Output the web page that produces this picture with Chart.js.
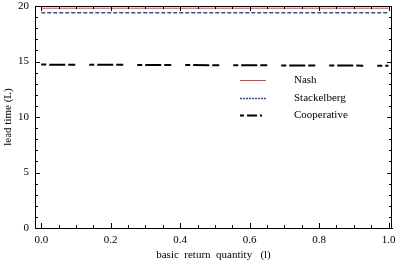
<!DOCTYPE html>
<html>
<head>
<meta charset="utf-8">
<script src="https://cdn.jsdelivr.net/npm/chart.js@4"></script>
<style>
  html, body { margin: 0; padding: 0; background: #fff; }
  #wrap { width: 397px; height: 264px; }
</style>
</head>
<body>
<div id="wrap"><canvas id="leadChart" width="397" height="264"></canvas></div>
<script>
// values
const returnQty = [0, 0.1, 0.2, 0.3, 0.4, 0.5, 0.6, 0.7, 0.8, 0.9, 1.0];
const nashLead = [19.8, 19.8, 19.8, 19.8, 19.8, 19.8, 19.8, 19.8, 19.8, 19.8, 19.8];
const stackLead = [19.4, 19.4, 19.4, 19.4, 19.4, 19.4, 19.4, 19.4, 19.4, 19.4, 19.4];
const coopLead = [14.72, 14.71, 14.7, 14.69, 14.68, 14.67, 14.66, 14.65, 14.64, 14.63, 14.62];
const xTickLabels = [0, 0.2, 0.4, 0.6, 0.8, 1.0];
const yTickLabels = [0, 5, 10, 15, 20];

const serif = 'Liberation Serif';
const coopDash = [5, 3, 16, 3, 7, 14];

const pts = (ys) => returnQty.map((x, i) => ({ x: x, y: ys[i] }));

// inward ticks on all four sides, Mathematica style
const frameTicks = {
  id: 'frameTicks',
  afterDraw(chart) {
    const c = chart.ctx, a = chart.chartArea;
    const xs = chart.scales.x, ys = chart.scales.y;
    c.save();
    c.strokeStyle = '#000';
    c.lineWidth = 1;
    c.beginPath();
    c.moveTo(a.left, a.top + 0.5); c.lineTo(a.right, a.top + 0.5);
    c.moveTo(a.right - 0.5, a.top); c.lineTo(a.right - 0.5, a.bottom);
    for (let i = 0; i <= 20; i++) {
      const v = i * 0.05;
      const px = Math.round(xs.getPixelForValue(v)) + 0.5;
      const len = (i % 4 === 0) ? 5 : 3;
      c.moveTo(px, a.bottom); c.lineTo(px, a.bottom - len);
      c.moveTo(px, a.top); c.lineTo(px, a.top + len);
    }
    for (let v = 0; v <= 20; v++) {
      const py = Math.round(ys.getPixelForValue(v)) + 0.5;
      const len = (v % 5 === 0) ? 5 : 3;
      c.moveTo(a.left, py); c.lineTo(a.left + len, py);
      c.moveTo(a.right, py); c.lineTo(a.right - len, py);
    }
    c.stroke();
    c.restore();
  }
};

// legend drawn inside the plot
const innerLegend = {
  id: 'innerLegend',
  afterDraw(chart) {
    const c = chart.ctx;
    const rows = [
      { text: 'Nash', color: '#e04848', width: 1, dash: [], y: 80 },
      { text: 'Stackelberg', color: '#3a4f9a', width: 1.5, dash: [2, 1], y: 98 },
      { text: 'Cooperative', color: '#000', width: 2, dash: [4, 3, 10, 3, 2, 6], y: 115 }
    ];
    c.save();
    c.font = '11px "' + serif + '"';
    c.textBaseline = 'middle';
    c.fillStyle = '#000';
    rows.forEach(r => {
      c.beginPath();
      c.strokeStyle = r.color;
      c.lineWidth = r.width;
      c.setLineDash(r.dash);
      c.moveTo(240, r.y + 0.5);
      c.lineTo(266, r.y + 0.5);
      c.stroke();
      c.setLineDash([]);
      c.fillText(r.text, 294, r.y);
    });
    c.restore();
  }
};

const ctx = document.getElementById('leadChart').getContext('2d');

const leadChart = new Chart(ctx, {
  type: 'line',
  data: {
    datasets: [
      { label: 'Nash', data: pts(nashLead), borderColor: '#e04848', borderWidth: 1, pointRadius: 0 },
      { label: 'Stackelberg', data: pts(stackLead), borderColor: '#3a4f9a', borderWidth: 1.5, borderDash: [4, 2], pointRadius: 0 },
      { label: 'Cooperative', data: pts(coopLead), borderColor: '#000', borderWidth: 2, borderDash: coopDash, pointRadius: 0 }
    ]
  },
  options: {
    responsive: false,
    animation: false,
    layout: { padding: { top: 6, right: 5, left: 0, bottom: 0 } },
    plugins: { legend: { display: false }, tooltip: { enabled: false } },
    scales: {
      x: {
        type: 'linear',
        min: -0.018,
        max: 1.01,
        afterBuildTicks: (s) => { s.ticks = xTickLabels.map(v => ({ value: v })); },
        afterFit: (s) => { s.height = 36; s.paddingLeft = 0; s.paddingRight = 0; },
        grid: { display: false, drawTicks: false },
        border: { color: '#000', width: 1 },
        ticks: {
          color: '#000', padding: 6,
          font: { family: serif, size: 11 },
          maxRotation: 0,
          callback: (v) => Number(v).toFixed(1)
        },
        title: {
          display: true,
          text: 'basic  return  quantity   (l)',
          color: '#000',
          font: { family: serif, size: 11 },
          padding: { top: 0, bottom: 2 }
        }
      },
      y: {
        min: 0,
        max: 20,
        afterBuildTicks: (s) => { s.ticks = yTickLabels.map(v => ({ value: v })); },
        afterFit: (s) => { s.width = 35; s.paddingTop = 0; s.paddingBottom = 0; },
        grid: { display: false, drawTicks: false },
        border: { color: '#000', width: 1 },
        ticks: {
          color: '#000', padding: 6,
          font: { family: serif, size: 11 }
        },
        title: {
          display: true,
          text: 'lead time (L)',
          color: '#000',
          font: { family: serif, size: 11 },
          padding: { top: 2, bottom: 0 }
        }
      }
    }
  },
  plugins: [frameTicks, innerLegend]
});
</script>
</body>
</html>
